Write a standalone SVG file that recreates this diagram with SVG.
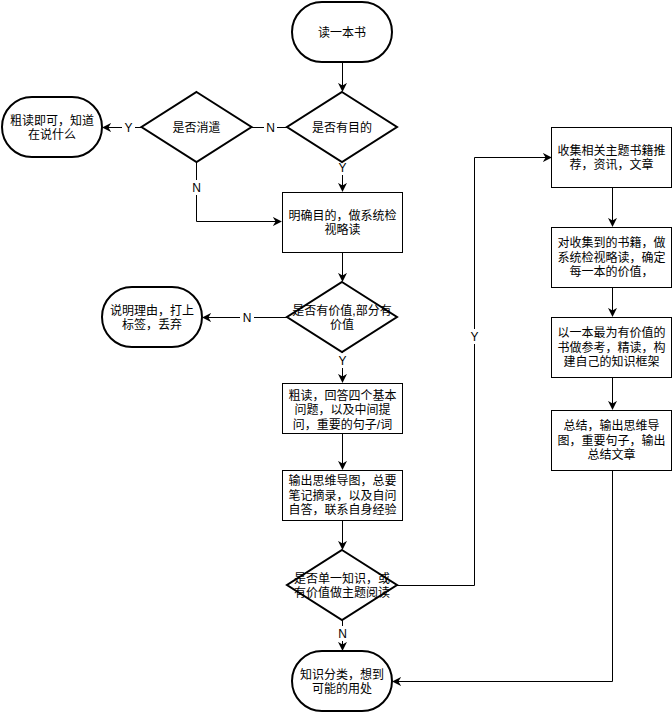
<svg xmlns="http://www.w3.org/2000/svg" width="672" height="712" viewBox="0 0 672 712">
<style>
.box{fill:#fff;stroke:#000;stroke-width:1}
.term{fill:#fff;stroke:#000;stroke-width:2}
.dia{fill:#fff;stroke:#000;stroke-width:2}
.t{font-family:"Liberation Sans","Noto Sans CJK SC",sans-serif;font-size:12px;fill:#000;text-anchor:middle}
.ln{fill:none;stroke:#000;stroke-width:1}
.lbl{fill:#fff}
</style>
<defs>
<marker id="ar" viewBox="0 0 10 10" refX="9" refY="5" markerWidth="9" markerHeight="9" markerUnits="userSpaceOnUse" orient="auto">
<path d="M0,0 L10,5 L0,10 L3,5 Z" fill="#000"/>
</marker>
</defs>
<rect width="672" height="712" fill="#fff"/>
<g id="connectors">
<path class="ln" d="M342.5,62 V91" marker-end="url(#ar)"/>
<path class="ln" d="M342.5,162 V191" marker-end="url(#ar)"/>
<path class="ln" d="M287,127.5 H252"/>
<path class="ln" d="M141,127.5 H103" marker-end="url(#ar)"/>
<path class="ln" d="M196.5,162 V221.5 H281" marker-end="url(#ar)"/>
<path class="ln" d="M342.5,252 V281" marker-end="url(#ar)"/>
<path class="ln" d="M287,317.5 H203" marker-end="url(#ar)"/>
<path class="ln" d="M342.5,352 V382" marker-end="url(#ar)"/>
<path class="ln" d="M342.5,433 V469" marker-end="url(#ar)"/>
<path class="ln" d="M342.5,520 V549" marker-end="url(#ar)"/>
<path class="ln" d="M397,585.5 H474.5 V157.5 H551" marker-end="url(#ar)"/>
<path class="ln" d="M342.5,620 V650" marker-end="url(#ar)"/>
<path class="ln" d="M612.5,187 V226" marker-end="url(#ar)"/>
<path class="ln" d="M612.5,287 V316" marker-end="url(#ar)"/>
<path class="ln" d="M612.5,377 V409" marker-end="url(#ar)"/>
<path class="ln" d="M612.5,470 V681.5 H393" marker-end="url(#ar)"/>
<rect class="lbl" x="336" y="160" width="13" height="15"/><text class="t" x="342.5" y="172">Y</text>
<rect class="lbl" x="264" y="121" width="13" height="15"/><text class="t" x="270.5" y="132">N</text>
<rect class="lbl" x="122" y="120" width="13" height="15"/><text class="t" x="128.5" y="132">Y</text>
<rect class="lbl" x="190" y="180" width="13" height="15"/><text class="t" x="196.5" y="192">N</text>
<rect class="lbl" x="240" y="310" width="14" height="15"/><text class="t" x="247" y="322">N</text>
<rect class="lbl" x="336" y="353" width="13" height="15"/><text class="t" x="342.5" y="365">Y</text>
<rect class="lbl" x="468" y="329" width="13" height="15"/><text class="t" x="474.5" y="341">Y</text>
<rect class="lbl" x="336" y="626" width="13" height="15"/><text class="t" x="342.5" y="638">N</text>
</g>
<g id="start"><rect class="term" x="292" y="2" width="100" height="60" rx="30"/><text class="t" x="342" y="36.5">读一本书</text></g>
<g id="purpose"><polygon class="dia" points="342,92 397,127 342,162 287,127"/><text class="t" x="342" y="131.5">是否有目的</text></g>
<g id="leisure"><polygon class="dia" points="196.5,92 251.5,127 196.5,162 141.5,127"/><text class="t" x="196.5" y="131.5">是否消遣</text></g>
<g id="skim"><rect class="term" x="2" y="97" width="100" height="60" rx="30"/><text class="t" x="52" y="124.5">粗读即可，知道</text><text class="t" x="52" y="138.5">在说什么</text></g>
<g id="inspect"><rect class="box" x="282.5" y="192.5" width="120" height="60"/><text class="t" x="342.5" y="219.5">明确目的，做系统检</text><text class="t" x="342.5" y="233.5">视略读</text></g>
<g id="value"><polygon class="dia" points="342,282 397,317 342,352 287,317"/><text class="t" x="342" y="314.5">是否有价值,部分有</text><text class="t" x="342" y="328.5">价值</text></g>
<g id="discard"><rect class="term" x="102" y="287" width="100" height="60" rx="30"/><text class="t" x="152" y="314.5">说明理由，打上</text><text class="t" x="152" y="328.5">标签，丢弃</text></g>
<g id="read"><rect class="box" x="282.5" y="383.5" width="120" height="50"/><text class="t" x="342.5" y="399.5">粗读，回答四个基本</text><text class="t" x="342.5" y="414">问题，以及中间提</text><text class="t" x="342.5" y="428.5">问，重要的句子/词</text></g>
<g id="output"><rect class="box" x="282.5" y="470.5" width="120" height="50"/><text class="t" x="342.5" y="485">输出思维导图，总要</text><text class="t" x="342.5" y="499.5">笔记摘录，以及自问</text><text class="t" x="342.5" y="514">自答，联系自身经验</text></g>
<g id="single"><polygon class="dia" points="342,550 397,585 342,620 287,585"/><text class="t" x="342" y="582.5">是否单一知识，或</text><text class="t" x="342" y="596.5">有价值做主题阅读</text></g>
<g id="end"><rect class="term" x="292" y="651" width="100" height="60" rx="30"/><text class="t" x="342" y="678.5">知识分类，想到</text><text class="t" x="342" y="692.5">可能的用处</text></g>
<g id="collect"><rect class="box" x="551.5" y="127.5" width="120" height="60"/><text class="t" x="611.5" y="154.5">收集相关主题书籍推</text><text class="t" x="611.5" y="168.5">荐，资讯，文章</text></g>
<g id="survey"><rect class="box" x="551.5" y="227.5" width="120" height="60"/><text class="t" x="611.5" y="247">对收集到的书籍，做</text><text class="t" x="611.5" y="261.5">系统检视略读，确定</text><text class="t" x="611.5" y="276">每一本的价值，</text></g>
<g id="deep"><rect class="box" x="551.5" y="317.5" width="120" height="60"/><text class="t" x="611.5" y="337">以一本最为有价值的</text><text class="t" x="611.5" y="351.5">书做参考，精读，构</text><text class="t" x="611.5" y="366">建自己的知识框架</text></g>
<g id="summary"><rect class="box" x="551.5" y="410.5" width="120" height="60"/><text class="t" x="611.5" y="430">总结，输出思维导</text><text class="t" x="611.5" y="444.5">图，重要句子，输出</text><text class="t" x="611.5" y="459">总结文章</text></g>
</svg>
